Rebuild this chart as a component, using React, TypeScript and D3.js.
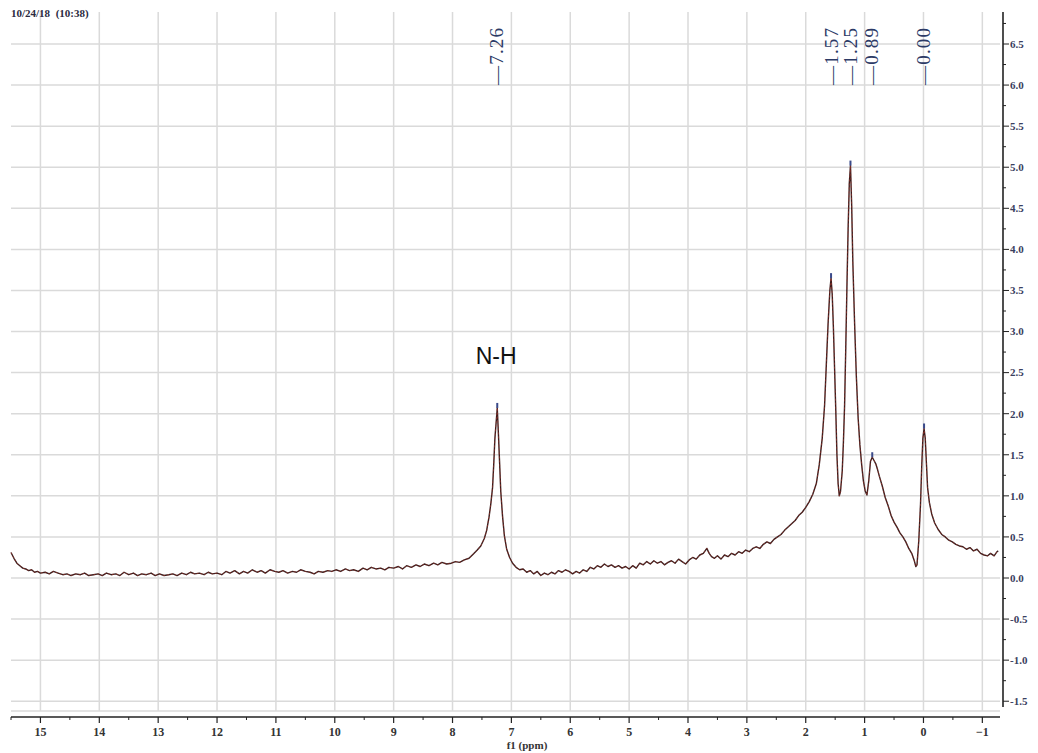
import React from 'react';
import * as d3 from 'd3';

// spectrum, [ppm, intensity]
const baselineLeft: [number, number][] = [
  [15.5, 0.31], [15.45, 0.24], [15.4, 0.18], [15.35, 0.15], [15.3, 0.12], [15.25, 0.11],
  [15.2, 0.09], [15.15, 0.1], [15.1, 0.07], [15.05, 0.08], [15.0, 0.06], [14.92, 0.07],
  [14.85, 0.05], [14.78, 0.08], [14.7, 0.06], [14.62, 0.04], [14.55, 0.05], [14.48, 0.03],
  [14.4, 0.05], [14.32, 0.04], [14.25, 0.06], [14.18, 0.03], [14.1, 0.04], [14.02, 0.05],
  [13.95, 0.03], [13.88, 0.06], [13.8, 0.04], [13.72, 0.05], [13.65, 0.03], [13.58, 0.07],
  [13.5, 0.04], [13.42, 0.06], [13.35, 0.03], [13.28, 0.05], [13.2, 0.04], [13.12, 0.06],
  [13.05, 0.03], [12.98, 0.05], [12.9, 0.03], [12.82, 0.04], [12.75, 0.05], [12.68, 0.03],
  [12.6, 0.06], [12.52, 0.04], [12.45, 0.07], [12.38, 0.05], [12.3, 0.06], [12.22, 0.04],
  [12.15, 0.07], [12.08, 0.05], [12.0, 0.06], [11.92, 0.04], [11.85, 0.08], [11.78, 0.06],
  [11.7, 0.09], [11.62, 0.05], [11.55, 0.08], [11.48, 0.06], [11.4, 0.1], [11.32, 0.07],
  [11.25, 0.09], [11.18, 0.06], [11.1, 0.1], [11.02, 0.08], [10.95, 0.07], [10.88, 0.09],
  [10.8, 0.06], [10.72, 0.08], [10.65, 0.07], [10.58, 0.1], [10.5, 0.08], [10.42, 0.07],
  [10.35, 0.05], [10.28, 0.08], [10.2, 0.07], [10.12, 0.09], [10.05, 0.08], [9.98, 0.1],
  [9.9, 0.08], [9.82, 0.11], [9.75, 0.09], [9.68, 0.1], [9.6, 0.08], [9.52, 0.12],
  [9.45, 0.1], [9.38, 0.13], [9.3, 0.11], [9.22, 0.12], [9.15, 0.1], [9.08, 0.13],
  [9.0, 0.12], [8.92, 0.14], [8.85, 0.11], [8.78, 0.15], [8.7, 0.13], [8.62, 0.16],
  [8.55, 0.14], [8.48, 0.17], [8.4, 0.15], [8.32, 0.18], [8.25, 0.16], [8.18, 0.19],
  [8.1, 0.17], [8.02, 0.18], [7.95, 0.2], [7.88, 0.19],
];

const nhPeak: [number, number][] = [
  [7.8, 0.22], [7.72, 0.24], [7.65, 0.29], [7.58, 0.34], [7.52, 0.39], [7.46, 0.48],
  [7.42, 0.58], [7.38, 0.74], [7.35, 0.9], [7.32, 1.1], [7.3, 1.38], [7.28, 1.7],
  [7.24, 2.07], [7.22, 1.75], [7.2, 1.4], [7.18, 1.05], [7.15, 0.75], [7.12, 0.52],
  [7.08, 0.35], [7.03, 0.25], [6.98, 0.18], [6.92, 0.13], [6.86, 0.1], [6.8, 0.11],
];

const baselineMid: [number, number][] = [
  [6.74, 0.07], [6.68, 0.09], [6.62, 0.05], [6.56, 0.08], [6.5, 0.03], [6.44, 0.06],
  [6.38, 0.04], [6.32, 0.07], [6.26, 0.05], [6.2, 0.09], [6.14, 0.07], [6.08, 0.1],
  [6.02, 0.08], [5.96, 0.05], [5.9, 0.08], [5.84, 0.06], [5.78, 0.1], [5.72, 0.08],
  [5.66, 0.13], [5.6, 0.11], [5.54, 0.15], [5.48, 0.13], [5.42, 0.17], [5.36, 0.14],
  [5.3, 0.16], [5.24, 0.13], [5.18, 0.15], [5.12, 0.12], [5.06, 0.14], [5.0, 0.11],
  [4.94, 0.15], [4.88, 0.12], [4.82, 0.18], [4.76, 0.16], [4.7, 0.2], [4.64, 0.17],
  [4.58, 0.21], [4.52, 0.18], [4.46, 0.2], [4.4, 0.16], [4.34, 0.19], [4.28, 0.21],
  [4.22, 0.18], [4.16, 0.23], [4.1, 0.2], [4.04, 0.17], [3.98, 0.22], [3.92, 0.25],
  [3.86, 0.23], [3.8, 0.28], [3.74, 0.3], [3.68, 0.36], [3.64, 0.3], [3.6, 0.26],
  [3.55, 0.24], [3.5, 0.27], [3.44, 0.23], [3.38, 0.28], [3.32, 0.26], [3.26, 0.3],
  [3.2, 0.28], [3.14, 0.32], [3.08, 0.3], [3.02, 0.34], [2.96, 0.32], [2.9, 0.36],
  [2.84, 0.38], [2.78, 0.36], [2.72, 0.41], [2.66, 0.44], [2.6, 0.42], [2.54, 0.47],
  [2.48, 0.5], [2.42, 0.53], [2.36, 0.58], [2.3, 0.62], [2.24, 0.66], [2.18, 0.7],
  [2.12, 0.76], [2.06, 0.8], [2.0, 0.86], [1.94, 0.93],
];

const aliphatic: [number, number][] = [
  [1.88, 1.02], [1.82, 1.15], [1.77, 1.38], [1.72, 1.7], [1.68, 2.1], [1.65, 2.6],
  [1.62, 3.1], [1.59, 3.5], [1.57, 3.65], [1.55, 3.45], [1.53, 3.05], [1.51, 2.55],
  [1.49, 2.05], [1.47, 1.5], [1.45, 1.15], [1.43, 1.0], [1.41, 1.05], [1.38, 1.3],
  [1.36, 1.65], [1.34, 2.1], [1.32, 2.8], [1.3, 3.55], [1.28, 4.25], [1.26, 4.8],
  [1.24, 5.02], [1.22, 4.55], [1.2, 3.85], [1.17, 3.1], [1.14, 2.45], [1.11, 1.95],
  [1.08, 1.62], [1.05, 1.38], [1.02, 1.18], [0.99, 1.06], [0.96, 1.01], [0.93, 1.18],
  [0.9, 1.42], [0.87, 1.47], [0.84, 1.43], [0.81, 1.39], [0.78, 1.32], [0.75, 1.24],
  [0.7, 1.12], [0.65, 0.98], [0.6, 0.88], [0.55, 0.76], [0.5, 0.68], [0.45, 0.62],
  [0.4, 0.55], [0.35, 0.5], [0.3, 0.44], [0.25, 0.36], [0.2, 0.3], [0.16, 0.22],
  [0.13, 0.14], [0.11, 0.16],
];

const tmsTail: [number, number][] = [
  [0.08, 0.45], [0.05, 0.9], [0.03, 1.35], [0.01, 1.7], [-0.01, 1.82], [-0.03, 1.7],
  [-0.05, 1.4], [-0.07, 1.1], [-0.1, 0.92], [-0.14, 0.78], [-0.19, 0.67], [-0.25, 0.59],
  [-0.31, 0.53], [-0.37, 0.5], [-0.43, 0.46], [-0.49, 0.44], [-0.55, 0.41], [-0.61, 0.39],
  [-0.67, 0.38], [-0.73, 0.35], [-0.79, 0.37], [-0.85, 0.33], [-0.91, 0.35], [-0.97, 0.3],
  [-1.03, 0.28], [-1.09, 0.27], [-1.14, 0.3], [-1.2, 0.27], [-1.25, 0.32], [-1.27, 0.33],
];

const peakShifts = [7.26, 1.57, 1.25, 0.89, 0.0];
const xTickValues = [15, 14, 13, 12, 11, 10, 9, 8, 7, 6, 5, 4, 3, 2, 1, 0, -1];
const yTickValues = [-1.5, -1.0, -0.5, 0.0, 0.5, 1.0, 1.5, 2.0, 2.5, 3.0, 3.5, 4.0, 4.5, 5.0, 5.5, 6.0, 6.5];

const W = 1038;
const H = 753;
const plotLeft = 11;
const plotRight = 1000;
const plotTop = 12;
const plotBottom = 711;
const axisX = 1003;
const axisY = 717;

export default function App() {
  const spectrum = [...baselineLeft, ...nhPeak, ...baselineMid, ...aliphatic, ...tmsTail];

  const x = d3.scaleLinear().domain([15.5, -1.3]).range([plotLeft, plotRight]);
  const y = d3.scaleLinear().domain([0, 6.5]).range([578, 44]);

  const line = d3
    .line<[number, number]>()
    .x((d) => x(d[0]))
    .y((d) => y(d[1]))
    .curve(d3.curveLinear);

  const xMinor = d3.range(15.5, -1.3, -0.5).filter((v) => !Number.isInteger(v));
  const yMinor = d3.range(-1.5, 6.8, 0.25).filter((v) => Math.abs(v * 2 - Math.round(v * 2)) > 0.01);

  // peak marker sits on top of nearest data point
  const peakTop = (p: number) => {
    let best = spectrum[0];
    spectrum.forEach((d) => {
      if (Math.abs(d[0] - p) < 0.04 && d[1] > best[1]) best = d;
      else if (Math.abs(best[0] - p) >= 0.04 && Math.abs(d[0] - p) < Math.abs(best[0] - p)) best = d;
    });
    return best;
  };

  const serif = '"Liberation Serif", "DejaVu Serif", serif';

  return (
    <svg width={W} height={H} style={{ position: 'absolute', left: 0, top: 0, background: '#fff' }}>
      {/* grid */}
      <g stroke="#dadada" strokeWidth={1.5}>
        {xTickValues.map((t) => (
          <line key={'gx' + t} x1={x(t)} x2={x(t)} y1={plotTop} y2={plotBottom} />
        ))}
        {yTickValues.map((t) => (
          <line key={'gy' + t} x1={plotLeft} x2={plotRight} y1={y(t)} y2={y(t)} />
        ))}
        <line x1={plotLeft} x2={plotRight} y1={plotBottom} y2={plotBottom} />
      </g>

      {/* spectrum */}
      <path d={line(spectrum) || ''} fill="none" stroke="#3a1e1e" strokeWidth={1.4} strokeLinejoin="round" />
      <path d={line(spectrum) || ''} fill="none" stroke="#c23a2e" strokeWidth={0.6} strokeDasharray="2 2" opacity={0.8} />

      {/* peak markers */}
      {peakShifts.map((p) => {
        const d = peakTop(p);
        return (
          <rect key={'pm' + p} x={x(d[0]) - 1} y={y(d[1]) - 5} width={2} height={5} fill="#3a4a8a" />
        );
      })}

      {/* peak labels */}
      {peakShifts.map((p) => (
        <text
          key={'pl' + p}
          transform={`translate(${x(p)},85) rotate(-90)`}
          dy="0.35em"
          fontFamily={serif}
          fontSize={19}
          letterSpacing={1.2}
          fill="#2c3a66"
        >
          {'\u2014' + p.toFixed(2)}
        </text>
      ))}

      <text x={x(7.26)} y={364} textAnchor="middle" fontFamily="Arial, 'Liberation Sans', sans-serif" fontSize={23} fill="#111">
        N-H
      </text>

      {/* timestamp */}
      <text x={11} y={17} fontFamily={serif} fontSize={11} fontWeight="bold" fill="#2a2a40">
        10/24/18 {'\u00a0'}(10:38)
      </text>

      {/* right axis */}
      <line x1={axisX} x2={axisX} y1={plotTop} y2={plotBottom - 4} stroke="#222" strokeWidth={1.6} />
      {yTickValues.map((t) => (
        <g key={'yt' + t}>
          <line x1={axisX} x2={axisX + 6} y1={y(t)} y2={y(t)} stroke="#222" strokeWidth={1} />
          <text x={axisX + 7} y={y(t)} dy="0.35em" fontFamily={serif} fontSize={11} fontWeight="bold" fill="#3a4060">
            {t.toFixed(1)}
          </text>
        </g>
      ))}
      {yMinor.map((t) => (
        <line key={'ym' + t} x1={axisX} x2={axisX + 3} y1={y(t)} y2={y(t)} stroke="#222" strokeWidth={1} />
      ))}

      {/* bottom axis */}
      <line x1={plotLeft} x2={plotRight} y1={axisY} y2={axisY} stroke="#222" strokeWidth={1.6} />
      {xTickValues.map((t) => (
        <g key={'xt' + t}>
          <line x1={x(t)} x2={x(t)} y1={axisY} y2={axisY + 6} stroke="#222" strokeWidth={1.2} />
          <text x={x(t)} y={736} textAnchor="middle" fontFamily={serif} fontSize={12} fontWeight="bold" fill="#333">
            {t < 0 ? '\u2212' + Math.abs(t) : t}
          </text>
        </g>
      ))}
      {xMinor.map((t) => (
        <line key={'xm' + t} x1={x(t)} x2={x(t)} y1={axisY} y2={axisY + 3} stroke="#222" strokeWidth={1} />
      ))}
      <text x={527} y={749} textAnchor="middle" fontFamily={serif} fontSize={11} fontWeight="bold" fill="#333">
        f1 (ppm)
      </text>
    </svg>
  );
}
